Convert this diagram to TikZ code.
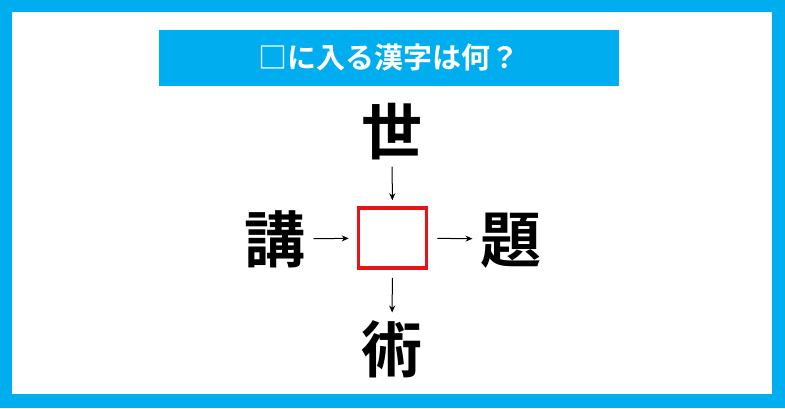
\documentclass[tikz,border=0pt]{standalone}
\usepackage{fontspec}
\newfontfamily\jpfont{Noto Sans CJK JP}[BoldFont={Noto Sans CJK JP Bold}]
\definecolor{quizblue}{RGB}{0,174,239}
\definecolor{quizred}{RGB}{230,20,25}
\usepackage{tikz}
\usetikzlibrary{arrows.meta}

\begin{document}
\begin{tikzpicture}[x=1pt,y=-1pt]

%
% Styles
%
\tikzstyle{banner} = [fill=quizblue,text=white,inner sep=0pt,text height=25.5pt,text depth=3.5pt,minimum width=460pt,minimum height=56pt,font=\jpfont\bfseries\fontsize{29pt}{29pt}\selectfont]
\tikzstyle{kanji}  = [inner sep=0pt,outer sep=0pt,text height=53.7pt,text depth=7.3pt,font=\jpfont\bfseries\fontsize{61pt}{61pt}\selectfont]
\tikzstyle{blank}  = [draw=quizred,line width=3.5pt,minimum width=68pt,minimum height=60pt,inner sep=0pt]

\tikzstyle{link}   = [->,>={Stealth[length=7pt,width=6pt]},line width=1pt]

\useasboundingbox (0,0) rectangle (785,408);
\fill[quizblue] (0,0) rectangle (785,408);
\fill[white] (12,12) rectangle (772,394);

\node[banner] (title) at (389,57.5) {□に入る漢字は何？};

\node[blank] (box)   at (392.5,238) {};
\node[kanji] (yo)    at (392,131)   {世};
\node[kanji] (kou)   at (275,239)   {講};
\node[kanji] (dai)   at (511,239)   {題};
\node[kanji] (jutsu) at (392,349)   {術};

\draw[link,shorten <=5pt,shorten >=6pt] (yo)  -- (box);
\draw[link,shorten <=8pt,shorten >=8pt] (kou) -- (box);
\draw[link,shorten <=9pt,shorten >=8pt] (box) -- (dai);
\draw[link,shorten <=8pt,shorten >=6pt] (box) -- (jutsu);

\end{tikzpicture}
\end{document}
